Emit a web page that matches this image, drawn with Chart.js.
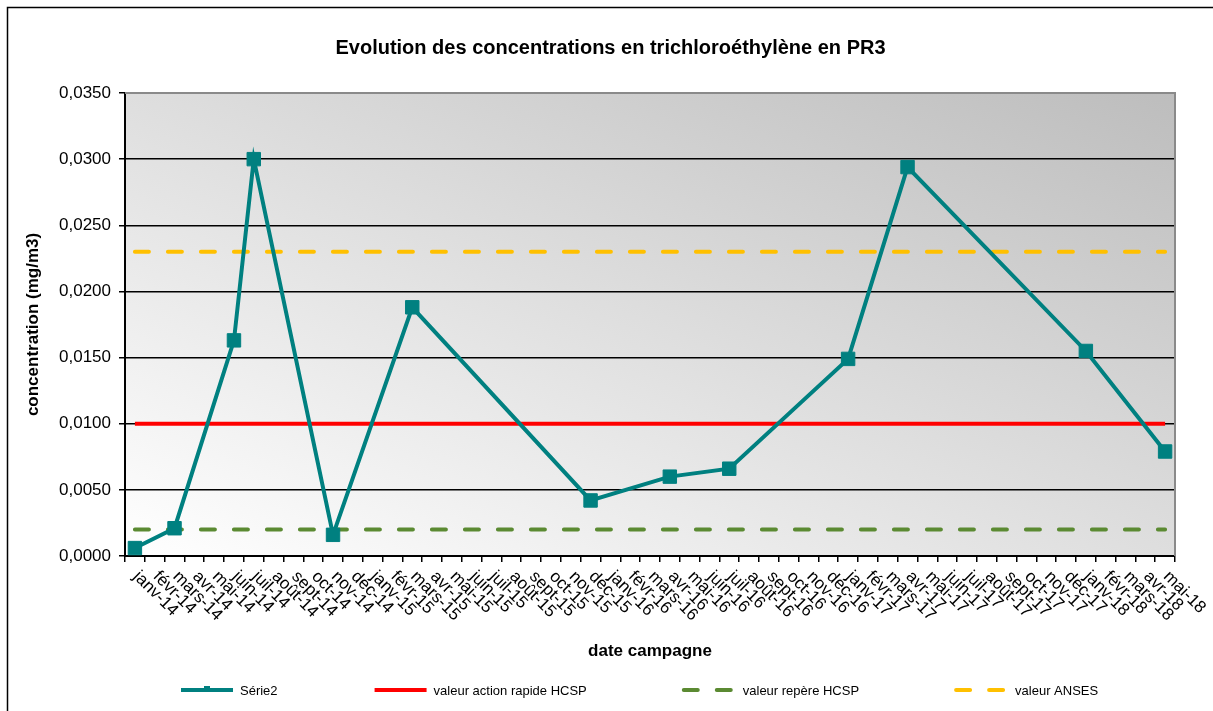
<!DOCTYPE html>
<html lang="fr">
<head>
<meta charset="utf-8">
<title>Evolution des concentrations en trichloroéthylène en PR3</title>
<script src="https://cdn.jsdelivr.net/npm/chart.js@4.4.1/dist/chart.umd.min.js"></script>
<style>
  html, body { margin: 0; padding: 0; background: #fff; }
  #wrap { width: 1213px; height: 711px; }
</style>
</head>
<body>
<div id="wrap"><canvas id="pr3Chart" width="1213" height="711"></canvas></div>
<script>
// mois affichés sur l'axe des abscisses
const mois = [
    'janv-14', 'févr-14', 'mars-14', 'avr-14', 'mai-14', 'juin-14', 'juil-14', 'août-14', 'sept-14', 'oct-14', 'nov-14', 'déc-14',
    'janv-15', 'févr-15', 'mars-15', 'avr-15', 'mai-15', 'juin-15', 'juil-15', 'août-15', 'sept-15', 'oct-15', 'nov-15', 'déc-15',
    'janv-16', 'févr-16', 'mars-16', 'avr-16', 'mai-16', 'juin-16', 'juil-16', 'août-16', 'sept-16', 'oct-16', 'nov-16', 'déc-16',
    'janv-17', 'févr-17', 'mars-17', 'avr-17', 'mai-17', 'juin-17', 'juil-17', 'août-17', 'sept-17', 'oct-17', 'nov-17', 'déc-17',
    'janv-18', 'févr-18', 'mars-18', 'avr-18', 'mai-18'
];

// campagnes réalisées et concentrations mesurées (mg/m3)
const campagnes = ['janv-14', 'mars-14', 'juin-14', 'juil-14', 'nov-14', 'mars-15', 'déc-15', 'avr-16', 'juil-16', 'janv-17', 'avr-17', 'janv-18', 'mai-18'];
const serie2 = [0.0006, 0.0021, 0.0163, 0.0300, 0.0016, 0.0188, 0.0042, 0.0060, 0.0066, 0.0149, 0.0294, 0.0155, 0.0079];

// valeurs de référence (mg/m3)
const valeurActionRapideHCSP = 0.010;
const valeurRepereHCSP = 0.002;
const valeurANSES = 0.023;

// graduations de l'axe des ordonnées
const yTicks = [0, 0.005, 0.010, 0.015, 0.020, 0.025, 0.030, 0.035];

const police = '"Liberation Sans", Arial, sans-serif';
Chart.defaults.font.family = police;
Chart.defaults.color = '#000';

// une valeur par mois, null quand il n'y a pas eu de campagne
const serie2Data = mois.map((m) => {
    const k = campagnes.indexOf(m);
    return k >= 0 ? serie2[k] : null;
});

// fond dégradé de la zone de tracé + cadre du graphique
const fondGraphique = {
    id: 'fondGraphique',
    beforeDraw(chart) {
        const ctx = chart.ctx;
        const a = chart.chartArea;
        const W = a.right - a.left, H = a.bottom - a.top;
        const k = 2 / (1 / (W * W) + 1 / (H * H));
        ctx.save();
        // cadre extérieur
        ctx.strokeStyle = '#000';
        ctx.lineWidth = 1.5;
        ctx.beginPath();
        ctx.moveTo(7.5, 720);
        ctx.lineTo(7.5, 7.5);
        ctx.lineTo(1220, 7.5);
        ctx.stroke();
        // dégradé diagonal blanc -> gris
        const g = ctx.createLinearGradient(a.left, a.bottom, a.left + k / W, a.bottom - k / H);
        g.addColorStop(0, '#ffffff');
        g.addColorStop(1, '#bdbdbd');
        ctx.fillStyle = g;
        ctx.fillRect(a.left, a.top, W, H);
        ctx.restore();
    },
    beforeDatasetsDraw(chart) {
        const ctx = chart.ctx;
        const a = chart.chartArea;
        ctx.save();
        ctx.strokeStyle = '#8a8a8a';
        ctx.lineWidth = 2;
        ctx.beginPath();
        ctx.moveTo(a.left, a.top);
        ctx.lineTo(a.right, a.top);
        ctx.lineTo(a.right, a.bottom);
        ctx.stroke();
        ctx.restore();
    }
};

// étiquettes des mois, inclinées vers le bas à droite
const etiquettesMois = {
    id: 'etiquettesMois',
    afterDraw(chart) {
        const xs = chart.scales.x;
        const ctx = chart.ctx;
        ctx.save();
        ctx.font = '17px ' + police;
        ctx.fillStyle = '#000';
        ctx.textAlign = 'left';
        ctx.textBaseline = 'middle';
        mois.forEach((m, i) => {
            const px = xs.getPixelForValue(i);
            ctx.save();
            ctx.translate(px + 1, xs.top + 18);
            ctx.rotate(Math.PI / 4);
            ctx.fillText(m, 0, 0);
            ctx.restore();
        });
        ctx.restore();
    }
};

// légende en bas
const legendeBas = {
    id: 'legendeBas',
    afterDraw(chart) {
        const ctx = chart.ctx;
        const y = 690;
        const longueur = 56;
        const ecart = 95;
        let x = 179;
        ctx.save();
        ctx.font = '13px ' + police;
        ctx.textBaseline = 'middle';
        ctx.textAlign = 'left';
        chart.data.datasets.forEach((ds) => {
            ctx.strokeStyle = ds.borderColor;
            ctx.lineWidth = ds.borderWidth;
            ctx.lineCap = ds.borderDash ? 'round' : 'butt';
            ctx.setLineDash(ds.borderDash || []);
            ctx.beginPath();
            ctx.moveTo(x + 2, y);
            ctx.lineTo(x + longueur - 2, y);
            ctx.stroke();
            ctx.setLineDash([]);
            if (ds.pointRadius > 0) {
                ctx.fillStyle = ds.pointBackgroundColor;
                ctx.fillRect(x + longueur / 2 - 3, y - 4, 6, 6);
            }
            ctx.fillStyle = '#000';
            ctx.fillText(ds.label, x + longueur + 5, y + 1);
            x += longueur + 5 + ctx.measureText(ds.label).width + ecart;
        });
        ctx.restore();
    }
};

const ctx = document.getElementById('pr3Chart').getContext('2d');
new Chart(ctx, {
    type: 'line',
    data: {
        labels: mois,
        datasets: [
            {
                label: 'Série2',
                data: serie2Data,
                borderColor: '#008080',
                borderWidth: 4,
                pointStyle: 'rect',
                pointRadius: 9.5,
                pointBackgroundColor: '#008080',
                pointBorderColor: '#008080',
                pointBorderWidth: 1,
                spanGaps: true,
                tension: 0,
            },
            {
                label: 'valeur action rapide HCSP',
                data: mois.map(() => valeurActionRapideHCSP),
                borderColor: '#ff0000',
                borderWidth: 4,
                pointRadius: 0,
            },
            {
                label: 'valeur repère HCSP',
                data: mois.map(() => valeurRepereHCSP),
                borderColor: '#5b8a32',
                borderWidth: 4,
                borderDash: [14, 19],
                borderCapStyle: 'round',
                pointRadius: 0,
            },
            {
                label: 'valeur ANSES',
                data: mois.map(() => valeurANSES),
                borderColor: '#ffc000',
                borderWidth: 4,
                borderDash: [14, 19],
                borderCapStyle: 'round',
                pointRadius: 0,
            },
        ],
    },
    options: {
        responsive: false,
        animation: false,
        layout: {
            padding: { left: 8, right: 0, top: 0, bottom: 41 },
        },
        plugins: {
            legend: { display: false },
            tooltip: { enabled: false },
            title: {
                display: true,
                text: 'Evolution des concentrations en trichloroéthylène en PR3',
                font: { size: 20, weight: 'bold' },
                color: '#000',
                padding: { top: 36, bottom: 33 },
            },
        },
        scales: {
            x: {
                type: 'category',
                offset: true,
                ticks: { display: false, autoSkip: false },
                grid: {
                    offset: true,
                    drawOnChartArea: false,
                    drawTicks: true,
                    tickLength: 6,
                    color: '#000',
                    lineWidth: 1.5,
                },
                border: { color: '#000', width: 2 },
                title: {
                    display: true,
                    text: 'date campagne',
                    font: { size: 17, weight: 'bold' },
                    padding: { top: 0, bottom: 8 },
                },
                afterFit: (s) => { s.height = 114; },
            },
            y: {
                min: 0,
                max: 0.035,
                afterBuildTicks: (s) => { s.ticks = yTicks.map((v) => ({ value: v })); },
                ticks: {
                    font: { size: 17 },
                    color: '#000',
                    padding: 8,
                    callback: (v) => v.toFixed(4).replace('.', ','),
                },
                grid: {
                    color: (c) => (c.tick && c.tick.value === 0.035 ? '#8a8a8a' : '#000'),
                    tickColor: '#000',
                    lineWidth: 1.5,
                    tickLength: 6,
                },
                border: { color: '#000', width: 2 },
                title: {
                    display: true,
                    text: 'concentration (mg/m3)',
                    font: { size: 17, weight: 'bold' },
                    padding: { top: 15, bottom: 0 },
                },
                afterFit: (s) => { s.width = 117; },
            },
            marge: {
                type: 'linear',
                position: 'right',
                display: true,
                ticks: { display: false },
                grid: { display: false },
                border: { display: false },
                afterFit: (s) => { s.width = 38; },
            },
        },
    },
    plugins: [fondGraphique, etiquettesMois, legendeBas],
});
</script>
</body>
</html>
